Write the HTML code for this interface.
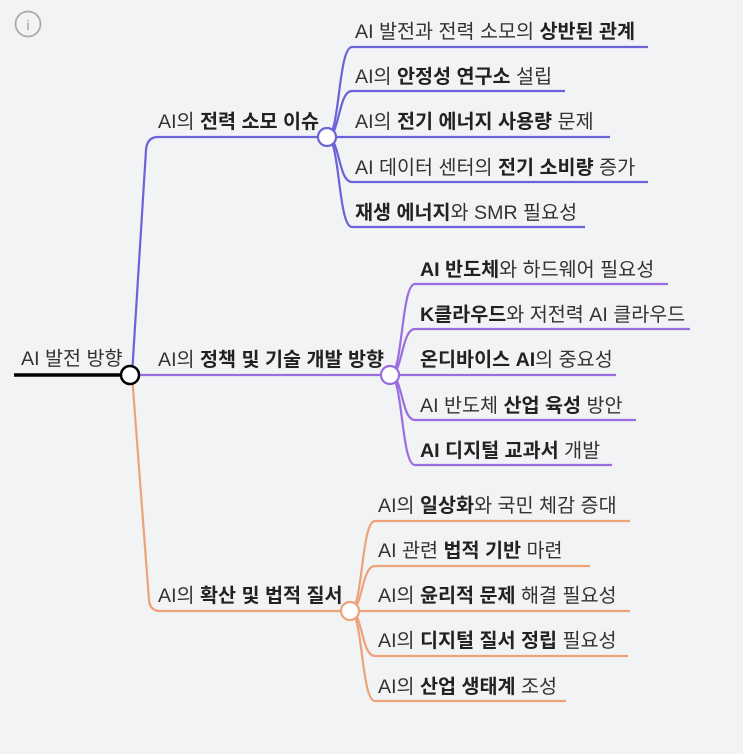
<!DOCTYPE html>
<html><head><meta charset="utf-8"><style>
html,body{margin:0;padding:0;background:#f2f3f5;}
svg{display:block}
text{font-family:"Liberation Sans","Noto Sans CJK KR",sans-serif;font-size:19.6px;fill:#333;}
.b{font-weight:bold;fill:#222}
</style></head><body>
<svg width="743" height="754" viewBox="0 0 743 754" xmlns="http://www.w3.org/2000/svg">
<rect width="743" height="754" fill="#f2f3f5"/>
<circle cx="28" cy="24" r="12.5" fill="none" stroke="#aaa" stroke-width="1.8"/>
<text x="28" y="30" text-anchor="middle" style="font-size:14px;fill:#999">i</text>

<g fill="none" stroke="#6b63d9" stroke-width="2.2">
<path d="M132,375 L146,150 Q147,137 158,137 L327,137"/>
<path d="M327,137 C340,137 338,47 352,47 L648,47"/>
<path d="M327,137 C340,137 338,91 352,91 L565,91"/>
<path d="M327,137 L610,137"/>
<path d="M327,137 C340,137 338,182 352,182 L648,182"/>
<path d="M327,137 C340,137 338,227 352,227 L585,227"/>
</g>
<circle cx="327" cy="137" r="9" fill="#fff" stroke="#6b63d9" stroke-width="2.2"/>
<g fill="none" stroke="#9b6ee0" stroke-width="2.2">
<path d="M130,375 L390,375"/>
<path d="M390,375 C403,375 401,284 415,284 L668,284"/>
<path d="M390,375 C403,375 401,329 415,329 L690,329"/>
<path d="M390,375 L616,375"/>
<path d="M390,375 C403,375 401,420 415,420 L636,420"/>
<path d="M390,375 C403,375 401,465 415,465 L612,465"/>
</g>
<circle cx="390" cy="375" r="9" fill="#fff" stroke="#9b6ee0" stroke-width="2.2"/>
<g fill="none" stroke="#eda27a" stroke-width="2.2">
<path d="M132,375 L149,600 Q150,611 160,611 L350,611"/>
<path d="M350,611 C363,611 361,521 375,521 L630,521"/>
<path d="M350,611 C363,611 361,566 375,566 L590,566"/>
<path d="M350,611 L630,611"/>
<path d="M350,611 C363,611 361,656 375,656 L628,656"/>
<path d="M350,611 C363,611 361,701 375,701 L566,701"/>
</g>
<circle cx="350" cy="611" r="9" fill="#fff" stroke="#eda27a" stroke-width="2.2"/>
<path d="M14,375 L122,375" stroke="#000" stroke-width="3.5"/>
<circle cx="130" cy="375" r="9" fill="#fff" stroke="#000" stroke-width="2.5"/>
<text x="21" y="365">AI 발전 방향</text>

<text x="158" y="128">AI의 <tspan class="b">전력 소모 이슈</tspan></text>
<text x="355" y="38">AI 발전과 전력 소모의 <tspan class="b">상반된 관계</tspan></text>
<text x="355" y="83">AI의 <tspan class="b">안정성 연구소</tspan> 설립</text>
<text x="355" y="128">AI의 <tspan class="b">전기 에너지 사용량</tspan> 문제</text>
<text x="355" y="174">AI 데이터 센터의 <tspan class="b">전기 소비량</tspan> 증가</text>
<text x="355" y="219"><tspan class="b">재생 에너지</tspan>와 SMR 필요성</text>

<text x="158" y="366">AI의 <tspan class="b">정책 및 기술 개발 방향</tspan></text>
<text x="420" y="276"><tspan class="b">AI 반도체</tspan>와 하드웨어 필요성</text>
<text x="420" y="321"><tspan class="b">K클라우드</tspan>와 저전력 AI 클라우드</text>
<text x="420" y="366"><tspan class="b">온디바이스 AI</tspan>의 중요성</text>
<text x="420" y="412">AI 반도체 <tspan class="b">산업 육성</tspan> 방안</text>
<text x="420" y="457"><tspan class="b">AI 디지털 교과서</tspan> 개발</text>

<text x="158" y="602">AI의 <tspan class="b">확산 및 법적 질서</tspan></text>
<text x="378" y="512">AI의 <tspan class="b">일상화</tspan>와 국민 체감 증대</text>
<text x="378" y="557">AI 관련 <tspan class="b">법적 기반</tspan> 마련</text>
<text x="378" y="602">AI의 <tspan class="b">윤리적 문제</tspan> 해결 필요성</text>
<text x="378" y="647">AI의 <tspan class="b">디지털 질서 정립</tspan> 필요성</text>
<text x="378" y="693">AI의 <tspan class="b">산업 생태계</tspan> 조성</text>
</svg>
</body></html>
